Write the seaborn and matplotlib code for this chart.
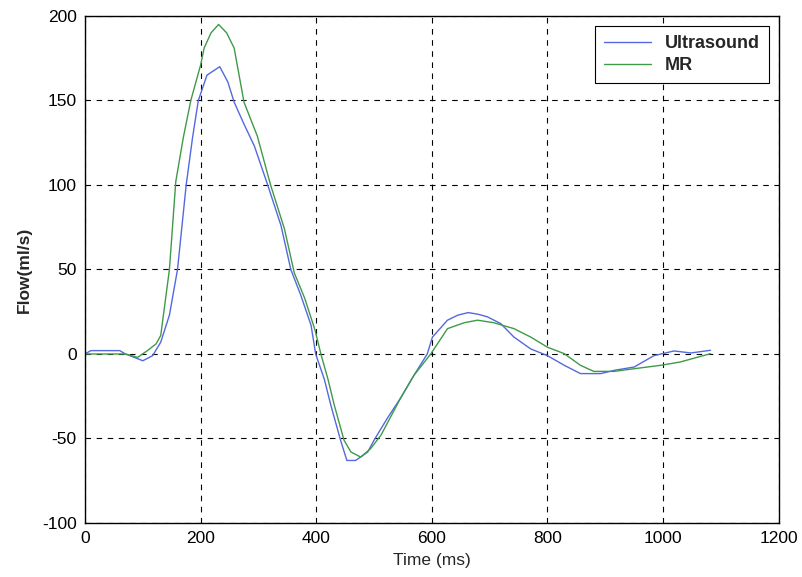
import numpy as np
import pandas as pd
import matplotlib
matplotlib.use("Agg")
import matplotlib.pyplot as plt
import seaborn as sns

# Ultrasound series (time in ms, flow in ml/s)
us_t = [0, 10, 60, 70, 85, 100, 117, 131, 146, 160, 175, 186, 196, 211, 233, 247, 258,
        275, 293, 316, 339, 356, 373, 391, 399, 414, 425, 442, 453, 468, 489, 500, 523,
        546, 569, 592, 601, 627, 645, 663, 680, 696, 719, 742, 771, 800, 829, 857, 892,
        915, 950, 984, 1019, 1048, 1082]
us_y = [0, 2, 2, 0, -2, -4, -1, 7, 23, 50, 100, 128, 150, 165, 170, 161, 149,
        136, 123, 100, 76, 50, 35, 17, 0, -15, -30, -51, -63, -63, -58, -51, -38,
        -26, -12.6, 0, 10, 20, 23, 24.5, 23.5, 22, 18, 10, 3, -1, -6.7, -11.6, -11.6,
        -9.7, -7.7, -1, 1.8, 0.6, 2.2]

# MR series
mr_t = [0, 70, 91, 108, 123, 131, 146, 157, 170, 183, 200, 206, 218, 231, 245, 258,
        275, 298, 321, 345, 362, 380, 398, 408, 420, 431, 448, 460, 477, 494, 512,
        546, 569, 598, 627, 656, 679, 707, 742, 771, 800, 829, 857, 880, 915,
        950, 996, 1030, 1082]
mr_y = [0, 0, -2, 2, 6, 11, 50, 102, 128, 150, 171, 181, 190, 195, 190, 181,
        149, 129, 100, 74, 48, 33, 14, 0, -14.6, -30, -51, -58, -61, -56, -48,
        -26, -12.6, 0, 15, 18.5, 20, 18.5, 15, 10, 4, 0.2, -6.7, -10.3, -10.3,
        -8.7, -6.7, -4.7, 0.2]

x_ticks = [0, 200, 400, 600, 800, 1000, 1200]
y_ticks = [-100, -50, 0, 50, 100, 150, 200]

df = pd.concat([
    pd.DataFrame({"Time": us_t, "Flow": us_y, "Series": "Ultrasound"}),
    pd.DataFrame({"Time": mr_t, "Flow": mr_y, "Series": "MR"}),
], ignore_index=True)

sns.set_style("white")
plt.rcParams["font.family"] = ["Liberation Sans", "DejaVu Sans"]
plt.rcParams["axes.unicode_minus"] = False

fig = plt.figure(figsize=(8.02, 5.77), dpi=100)
ax = fig.add_axes([0.106, 0.0936, 0.865, 0.8787])

palette = {"Ultrasound": "#5468e0", "MR": "#3f9a48"}
sns.lineplot(data=df, x="Time", y="Flow", hue="Series", palette=palette,
             sort=False, estimator=None, linewidth=1.0, ax=ax)

ax.set_xlim(0, 1200)
ax.set_ylim(-100, 200)
ax.set_xticks(x_ticks)
ax.set_yticks(y_ticks)
ax.tick_params(axis="both", labelsize=12.5, direction="in", length=4,
               width=0.8, colors="black")
ax.tick_params(axis="x", pad=6)
ax.tick_params(axis="y", pad=6)

ax.grid(True, color="black", linestyle=(0, (5, 5)), linewidth=0.8)
for s in ax.spines.values():
    s.set_color("black")
    s.set_linewidth(1.0)

ax.set_xlabel("Time (ms)", fontsize=12.5, labelpad=5)
ax.set_ylabel("Flow(ml/s)", fontsize=12.5, labelpad=7, fontweight="bold")

leg = ax.legend(loc="upper right", frameon=True, fontsize=13, fancybox=False,
                edgecolor="black", framealpha=1, borderaxespad=0.55,
                handlelength=2.6, handletextpad=0.75, borderpad=0.5,
                labelspacing=0.3)
leg.get_frame().set_linewidth(0.8)
for t in leg.get_texts():
    t.set_fontweight("bold")

fig.savefig("out.png", dpi=100)
